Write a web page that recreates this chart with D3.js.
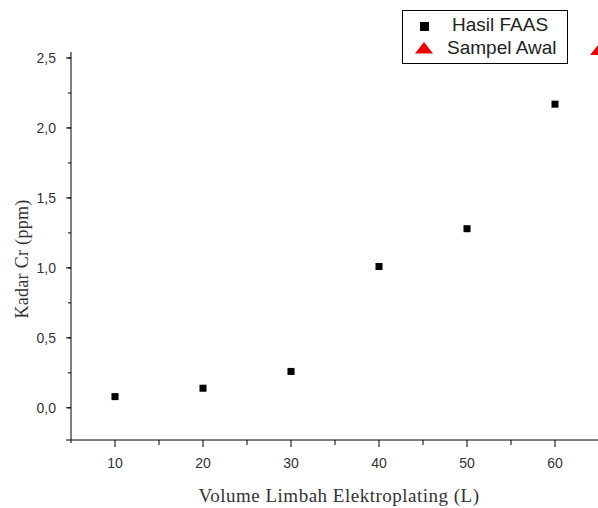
<!DOCTYPE html>
<html>
<head>
<meta charset="utf-8">
<script src="https://cdn.jsdelivr.net/npm/d3@7"></script>
<style>
  body { margin: 0; background: #fff; }
  svg { display: block; }
</style>
</head>
<body>
<div class="container"></div>
<script>
// data
var volumes = [10, 20, 30, 40, 50, 60];
var hasilFaas = [0.08, 0.14, 0.26, 1.01, 1.28, 2.17];
var sampelAwalX = [65];
var sampelAwal = [2.56];
var xTicks = [10, 20, 30, 40, 50, 60];
var yTicks = [0, 0.5, 1, 1.5, 2, 2.5];

var SVG_WIDTH = 598, SVG_HEIGHT = 508;

document.addEventListener('DOMContentLoaded', function () {
    var svg = d3.select(".container")
        .append("svg")
        .attr("width", SVG_WIDTH)
        .attr("height", SVG_HEIGHT);

    var x = d3.scaleLinear().domain([5, 65]).range([71, 599]);
    var y = d3.scaleLinear().domain([-0.23, 2.55]).range([440, 51]);

    var fmt = function (d) { return d3.format(".1f")(d).replace(".", ","); };
    var sans = "Liberation Sans, Arial, sans-serif";
    var serif = "Liberation Serif, Times New Roman, serif";

    // red triangle, a bit flattened like in the picture
    var tri = "M-9,5.5L9,5.5L0,-6Z";

    // y axis
    var gy = svg.append("g").attr("transform", "translate(71,0)");
    gy.append("line").attr("y1", 52).attr("y2", 443).attr("stroke", "#000");
    gy.selectAll(".minor").data(d3.range(-0.25, 2.51, 0.25).filter(function (v) { return v > -0.23; }))
        .enter().append("line")
        .attr("x1", -3).attr("x2", 0)
        .attr("y1", function (d) { return y(d); }).attr("y2", function (d) { return y(d); })
        .attr("stroke", "#000");
    gy.selectAll(".major").data(yTicks).enter().append("line")
        .attr("x1", -5).attr("x2", 0)
        .attr("y1", function (d) { return y(d); }).attr("y2", function (d) { return y(d); })
        .attr("stroke", "#000");
    gy.selectAll("text").data(yTicks).enter().append("text")
        .attr("x", -15).attr("y", function (d) { return y(d); })
        .attr("dy", "0.36em")
        .attr("text-anchor", "end")
        .attr("font-family", sans)
        .attr("font-size", 14)
        .attr("fill", "#333")
        .text(fmt);

    // x axis
    var gx = svg.append("g").attr("transform", "translate(0,440)");
    gx.append("line").attr("x1", 66).attr("x2", 598).attr("stroke", "#000");
    gx.selectAll(".minor").data(d3.range(15, 66, 10)).enter().append("line")
        .attr("x1", function (d) { return x(d); }).attr("x2", function (d) { return x(d); })
        .attr("y1", 0).attr("y2", 5)
        .attr("stroke", "#000");
    gx.selectAll(".major").data(xTicks).enter().append("line")
        .attr("x1", function (d) { return x(d); }).attr("x2", function (d) { return x(d); })
        .attr("y1", 0).attr("y2", 7)
        .attr("stroke", "#000");
    gx.selectAll("text").data(xTicks).enter().append("text")
        .attr("x", function (d) { return x(d); }).attr("y", 28)
        .attr("text-anchor", "middle")
        .attr("font-family", sans)
        .attr("font-size", 14)
        .attr("fill", "#333")
        .text(function (d) { return d; });

    // axis titles
    svg.append("text")
        .attr("x", 339).attr("y", 502)
        .attr("text-anchor", "middle")
        .attr("font-family", serif)
        .attr("font-size", 19)
        .attr("letter-spacing", 0.5)
        .attr("fill", "#333")
        .text("Volume Limbah Elektroplating (L)");
    svg.append("text")
        .attr("transform", "translate(28,259) rotate(-90)")
        .attr("text-anchor", "middle")
        .attr("font-family", serif)
        .attr("font-size", 18)
        .attr("letter-spacing", 0.3)
        .attr("fill", "#333")
        .text("Kadar Cr (ppm)");

    // points
    svg.append("g").selectAll("rect").data(volumes).enter().append("rect")
        .attr("x", function (d) { return x(d) - 3.5; })
        .attr("y", function (d, i) { return y(hasilFaas[i]) - 3.5; })
        .attr("width", 7).attr("height", 7)
        .attr("fill", "#000");

    svg.append("g").selectAll("path").data(sampelAwalX).enter().append("path")
        .attr("d", tri)
        .attr("transform", function (d, i) { return "translate(" + x(d) + "," + y(sampelAwal[i]) + ")"; })
        .attr("fill", "#e00");

    // legend
    var lg = svg.append("g");
    lg.append("rect")
        .attr("x", 402.5).attr("y", 10.5).attr("width", 165).attr("height", 53)
        .attr("fill", "#fff").attr("stroke", "#000");
    lg.append("rect").attr("x", 420).attr("y", 22).attr("width", 9).attr("height", 9).attr("fill", "#000");
    lg.append("path").attr("d", tri).attr("transform", "translate(424,48)").attr("fill", "#e00");
    lg.append("text").attr("x", 452).attr("y", 31)
        .attr("font-family", sans).attr("font-size", 19).attr("fill", "#222")
        .text("Hasil FAAS");
    lg.append("text").attr("x", 447).attr("y", 54)
        .attr("font-family", sans).attr("font-size", 19).attr("fill", "#222")
        .text("Sampel Awal");
});
</script>
</body>
</html>
